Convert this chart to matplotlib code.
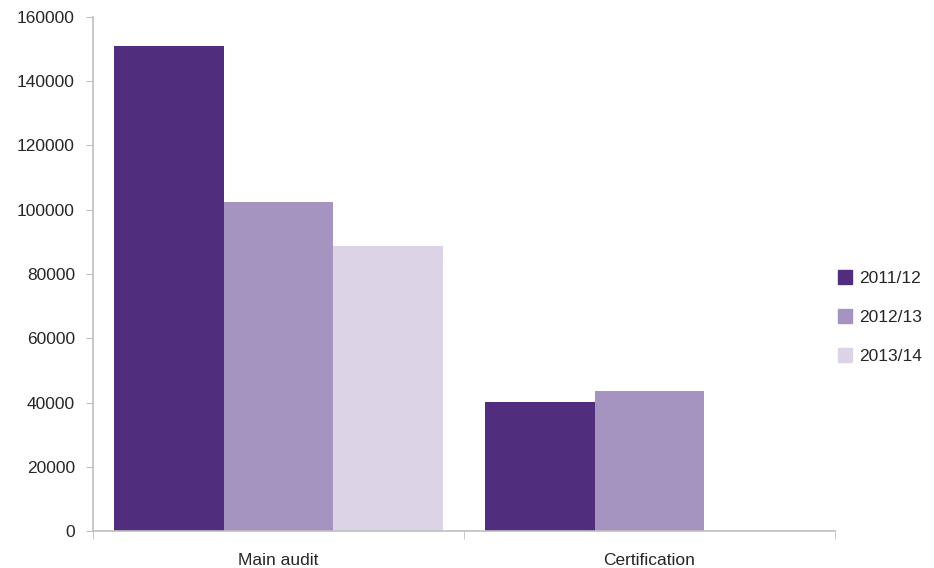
import numpy as np
import matplotlib.pyplot as plt
from matplotlib.patches import Patch

plt.rcParams['font.family'] = ['Liberation Sans', 'DejaVu Sans']

categories = ['Main audit', 'Certification']
years = ['2011/12', '2012/13', '2013/14']
values_2011 = [151000, 40200]
values_2012 = [102400, 43600]
values_2013 = [88600, 0]
series = [values_2011, values_2012, values_2013]
colors = ['#512D7E', '#A594C0', '#DCD4E6']

fig = plt.figure(figsize=(9.34, 5.68), dpi=100)
ax = fig.add_axes([0.0996, 0.0651, 0.7944, 0.905])

x = np.arange(len(categories))
width = 0.295
for i, (vals, col) in enumerate(zip(series, colors)):
    ax.bar(x + (i - 1) * width, vals, width, color=col, label=years[i])

ax.set_xlim(-0.5, 1.5)
ax.set_ylim(0, 160000)
ax.set_yticks(np.arange(0, 160001, 20000))
ax.tick_params(axis='y', length=5, color='#BFBFBF', labelsize=12.5,
               labelcolor='#262626', pad=8)

# category labels centred, tick marks on the category boundaries
ax.set_xticks(x)
ax.set_xticklabels(categories)
ax.tick_params(axis='x', length=0, labelsize=12.5, labelcolor='#262626', pad=16)
ax.set_xticks([-0.5, 0.5, 1.5], minor=True)
ax.tick_params(axis='x', which='minor', length=6, color='#BFBFBF', direction='out')

for side in ['top', 'right']:
    ax.spines[side].set_visible(False)
for side in ['left', 'bottom']:
    ax.spines[side].set_color('#BFBFBF')
    ax.spines[side].set_linewidth(1.2)

handles = [Patch(color=c, label=y) for c, y in zip(colors, years)]
leg = ax.legend(handles=handles, loc='center left', bbox_to_anchor=(1.004, 0.416),
                frameon=False, fontsize=12.5, handlelength=0.8, handleheight=0.8,
                handletextpad=0.4, labelspacing=1.35, borderpad=0, borderaxespad=0)
for t in leg.get_texts():
    t.set_color('#262626')

fig.savefig('out.png', dpi=100)
